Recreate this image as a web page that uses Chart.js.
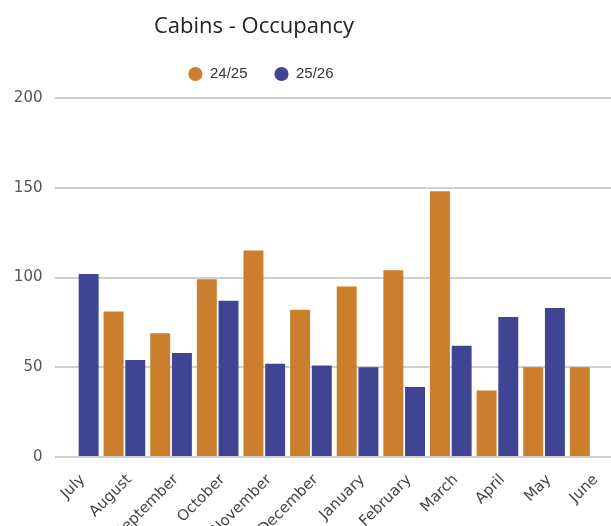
<!DOCTYPE html>
<html>
<head>
<meta charset="utf-8">
<script src="https://cdn.jsdelivr.net/npm/chart.js@4.4.1/dist/chart.umd.min.js"></script>
<style>
  html, body { margin: 0; padding: 0; background: #fff; overflow: hidden; }
  #wrap { position: relative; width: 614px; height: 526px; }
</style>
</head>
<body>
<div id="wrap"><canvas id="c"></canvas></div>
<script>
const categories = ["July", "August", "September", "October", "November", "December", "January", "February", "March", "April", "May", "June"];
const season2425 = [null, 81, 69, 99, 115, 82, 95, 104, 148, 37, 50, 50];
const season2526 = [102, 54, 58, 87, 52, 51, 50, 39, 62, 78, 83, null];
const seriesNames = ["24/25", "25/26"];
const yTicks = [0, 50, 100, 150, 200];

const ORANGE = "#CB7F2C";
const BLUE = "#3F4592";

// Header boxes in the reference sit left of the canvas centre
const TITLE_DX = -59.5;
const LEGEND_DX = -52.5;
const LEGEND_DY = -6.5;

const headerShift = {
  id: "headerShift",
  afterLayout(chart) {
    const t = chart.titleBlock;
    if (t) { t.left += TITLE_DX; t.right += TITLE_DX; }
    const l = chart.legend;
    if (l) { l.left += LEGEND_DX; l.right += LEGEND_DX; l.top += LEGEND_DY; l.bottom += LEGEND_DY; }
  }
};

new Chart(document.getElementById("c"), {
  type: "bar",
  data: {
    labels: categories,
    datasets: [
      { label: seriesNames[0], data: season2425, backgroundColor: ORANGE, borderWidth: 0 },
      { label: seriesNames[1], data: season2526, backgroundColor: BLUE, borderWidth: 0 }
    ]
  },
  plugins: [headerShift],
  options: {
    responsive: true,
    maintainAspectRatio: false,
    animation: false,
    categoryPercentage: 0.93,
    barPercentage: 0.92,
    layout: { padding: { left: 13, right: 0, top: 14, bottom: 0 } },
    plugins: {
      title: {
        display: true,
        text: "Cabins - Occupancy",
        color: "#222",
        font: { family: "Open Sans", size: 22, weight: "normal" },
        padding: { top: 0, bottom: 5.6 }
      },
      legend: {
        display: true,
        labels: {
          usePointStyle: true,
          pointStyle: "circle",
          boxWidth: 14,
          boxHeight: 10,
          padding: 27,
          color: "#333",
          font: { family: "Liberation Sans", size: 15 }
        }
      },
      tooltip: { enabled: false }
    },
    scales: {
      x: {
        grid: { display: false, drawTicks: false },
        border: { display: false },
        ticks: {
          color: "#444",
          font: { family: "DejaVu Sans", size: 15 },
          minRotation: 45,
          maxRotation: 45,
          autoSkip: false,
          padding: 14,
          labelOffset: 5
        },
        afterFit: (scale) => { scale.height = 69; scale.paddingLeft = 0; scale.paddingRight = 0; }
      },
      y: {
        min: 0,
        max: 200,
        afterBuildTicks: (scale) => { scale.ticks = yTicks.map(v => ({ value: v })); },
        afterFit: (scale) => { scale.width = 41.5; },
        grid: { color: "#cfcfcf", lineWidth: 2, drawTicks: false },
        border: { display: false },
        ticks: {
          color: "#555",
          font: { family: "DejaVu Sans", size: 15 },
          padding: 12
        }
      }
    }
  }
});
</script>
</body>
</html>
